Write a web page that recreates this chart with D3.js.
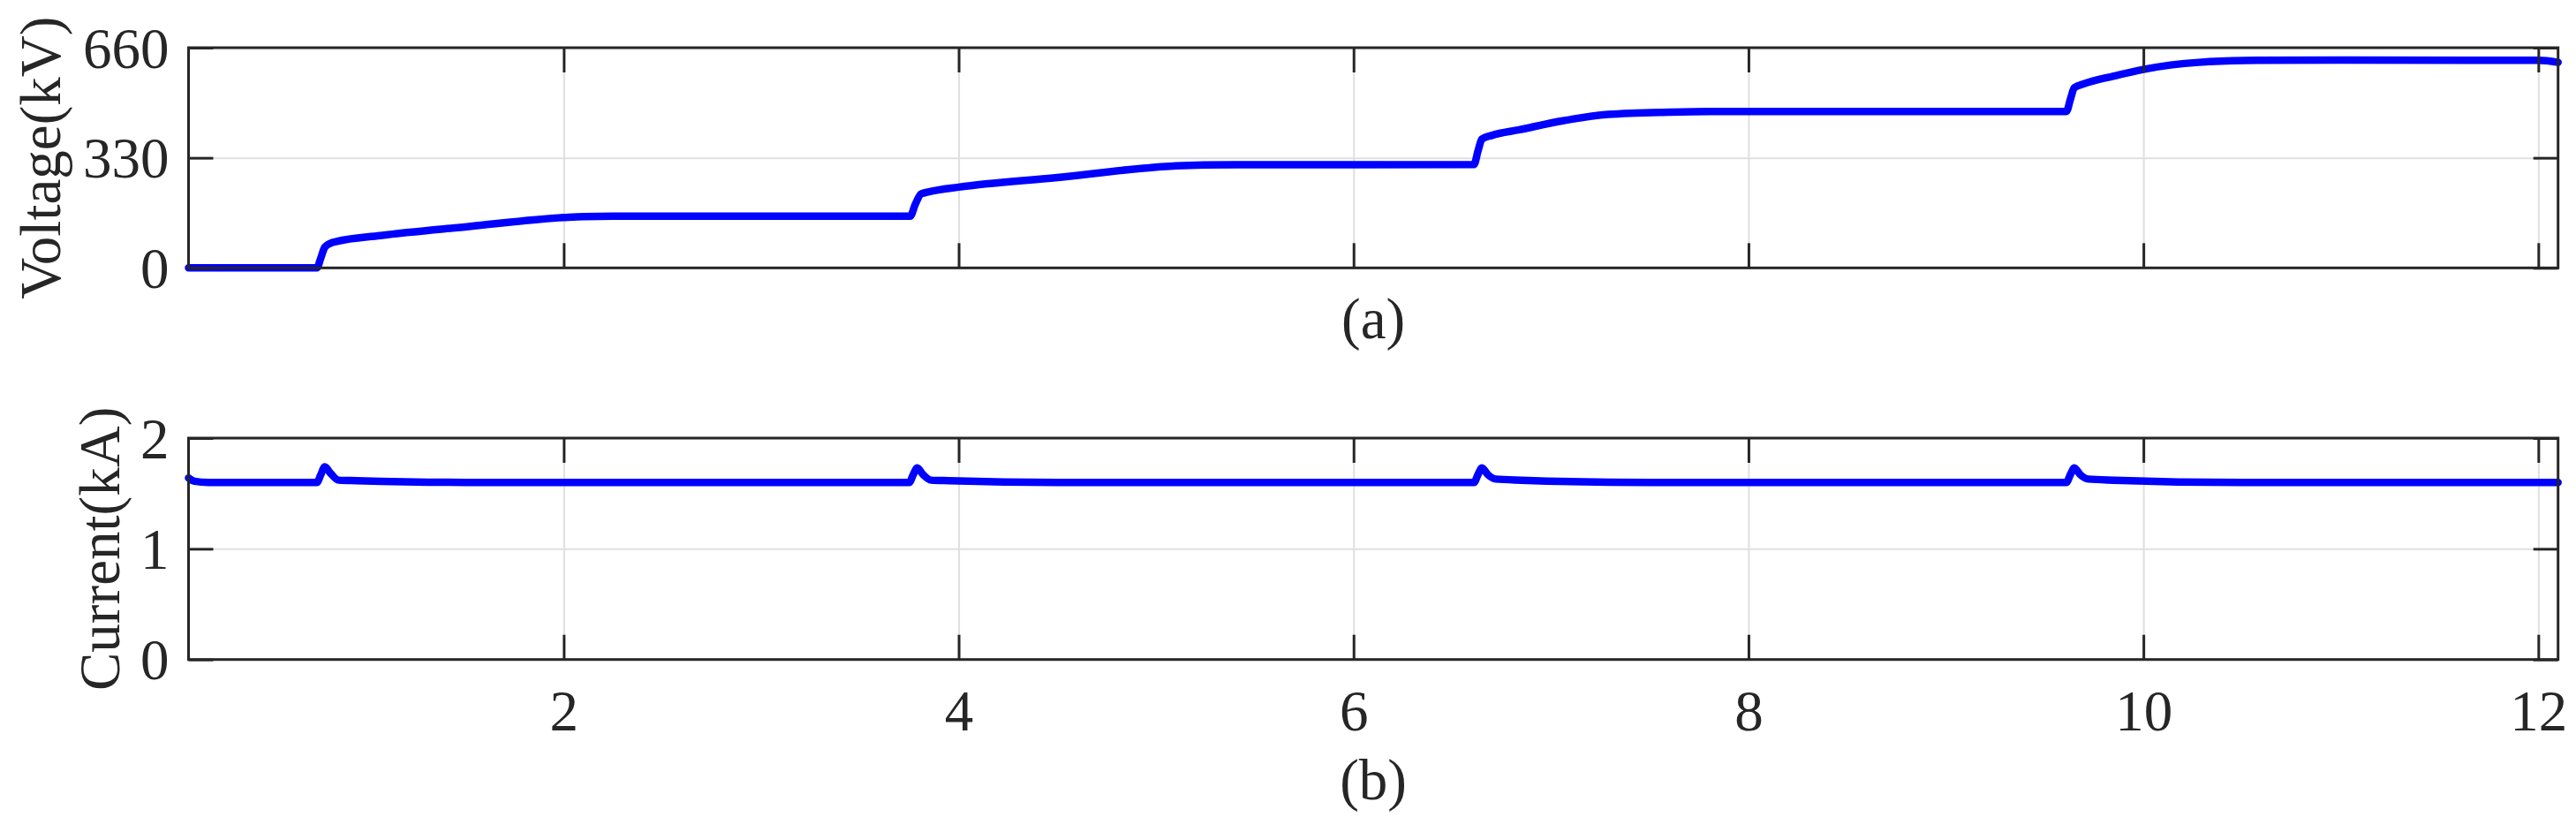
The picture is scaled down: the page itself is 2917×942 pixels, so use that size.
<!DOCTYPE html>
<html>
<head>
<meta charset="utf-8">
<script src="https://cdn.jsdelivr.net/npm/d3@7"></script>
<style>
  html, body { margin: 0; padding: 0; background: #ffffff; }
  svg { display: block; }
  text { font-family: "Liberation Serif", "Times New Roman", serif; fill: #262626; }
</style>
</head>
<body>
<svg id="chart" width="2917" height="942"></svg>
<script>
// ---------------- data ----------------
const xTicks = [2, 4, 6, 8, 10, 12];
const vTicks = [0, 330, 660];
const iTicks = [0, 1, 2];

const timeV = [0.1, 0.75, 0.77, 0.79, 0.82, 0.85, 1.07, 1.52, 2.0, 2.1, 2.3, 3.0, 3.755,
  3.78, 3.81, 3.85, 4.0, 4.5, 5.0, 5.1, 5.4, 6.61, 6.63, 6.65, 6.7, 6.84, 7.06, 7.29,
  7.6, 7.8, 9.61, 9.63, 9.65, 9.7, 9.85, 10.0, 10.28, 10.58, 11.0, 12.0, 12.1];
const voltage = [0, 0, 30, 62, 74, 79, 97, 124, 151, 154, 155, 155, 155,
  190, 222, 228, 242, 271, 302, 306, 309, 310, 350, 386, 397, 414, 441, 460,
  467, 469, 469, 505, 540, 552, 575, 595, 616, 622, 623, 622, 616];

const timeI = [0.1, 0.13, 0.2, 0.75, 0.77, 0.79, 0.82, 0.86, 0.95, 1.5,
  3.75, 3.77, 3.79, 3.82, 3.86, 3.95, 4.5,
  6.61, 6.63, 6.65, 6.68, 6.72, 6.85, 7.5,
  9.61, 9.63, 9.65, 9.68, 9.72, 9.85, 10.5, 12.1];
const current = [1.64, 1.61, 1.60, 1.60, 1.67, 1.74, 1.68, 1.62, 1.615, 1.60,
  1.60, 1.67, 1.73, 1.67, 1.62, 1.615, 1.60,
  1.60, 1.67, 1.73, 1.67, 1.63, 1.62, 1.60,
  1.60, 1.67, 1.73, 1.67, 1.63, 1.62, 1.60, 1.60];

// ---------------- layout ----------------
const svg = d3.select("#chart");
const left = 213.5, right = 2896.7;
const FS = 65;
const ink = "#262626";

const x = d3.scaleLinear().domain([0.1, 12.1]).range([left, right]);

function panel(cfg) {
  const y = d3.scaleLinear().domain(cfg.domain).range([cfg.bottom, cfg.top]);
  const g = svg.append("g");
  const h = cfg.bottom - cfg.top, w = right - left;

  // grid
  g.append("g").attr("transform", `translate(0,${cfg.bottom})`)
    .call(d3.axisBottom(x).tickValues(xTicks).tickSizeInner(-h).tickSizeOuter(0).tickFormat(""))
    .call(s => s.select(".domain").remove())
    .call(s => s.selectAll("line").attr("stroke", "#dfdfdf").attr("stroke-width", 2));
  g.append("g").attr("transform", `translate(${left},0)`)
    .call(d3.axisLeft(y).tickValues(cfg.ticks).tickSizeInner(-w).tickSizeOuter(0).tickFormat(""))
    .call(s => s.select(".domain").remove())
    .call(s => s.selectAll("line").attr("stroke", "#dfdfdf").attr("stroke-width", 2));

  // data line
  const line = d3.line().x((d, i) => x(cfg.t[i])).y(d => y(d)).curve(d3.curveMonotoneX);
  g.append("path").datum(cfg.values).attr("d", line)
    .attr("fill", "none").attr("stroke", "#0000ff").attr("stroke-width", 8.5)
    .attr("stroke-linejoin", "round").attr("stroke-linecap", "round");

  // axes (inward ticks)
  const TL = 28;
  const style = s => {
    s.select(".domain").remove();
    s.selectAll("line").attr("stroke", ink).attr("stroke-width", 3);
    s.selectAll("text").attr("font-size", FS).attr("font-family", '"Liberation Serif", "Times New Roman", serif').attr("fill", ink);
  };
  g.append("g").attr("transform", `translate(0,${cfg.bottom})`)
    .call(d3.axisBottom(x).tickValues(xTicks).tickSizeInner(-TL).tickSizeOuter(0).tickPadding(34)
      .tickFormat(cfg.xLabels ? d3.format("d") : ""))
    .call(style);
  g.append("g").attr("transform", `translate(0,${cfg.top})`)
    .call(d3.axisTop(x).tickValues(xTicks).tickSizeInner(-TL).tickSizeOuter(0).tickFormat(""))
    .call(style);
  g.append("g").attr("transform", `translate(${left},0)`)
    .call(d3.axisLeft(y).tickValues(cfg.ticks).tickSizeInner(-TL).tickSizeOuter(0).tickPadding(22)
      .tickFormat(d3.format("d")))
    .call(style)
    .call(s => s.selectAll("text").attr("dy", "0.34em"));
  g.append("g").attr("transform", `translate(${right},0)`)
    .call(d3.axisRight(y).tickValues(cfg.ticks).tickSizeInner(-TL).tickSizeOuter(0).tickFormat(""))
    .call(style);

  // box
  g.append("rect").attr("x", left).attr("y", cfg.top).attr("width", w).attr("height", h)
    .attr("fill", "none").attr("stroke", ink).attr("stroke-width", 3);

  // y label
  g.append("text")
    .attr("transform", `translate(${cfg.labelX},${(cfg.top + cfg.bottom) / 2}) rotate(-90)`)
    .attr("text-anchor", "middle").attr("font-size", FS).text(cfg.label);

  // caption
  g.append("text").attr("x", (left + right) / 2).attr("y", cfg.captionY)
    .attr("text-anchor", "middle").attr("font-size", FS).text(cfg.caption);
}

panel({ top: 54, bottom: 303.3, domain: [0, 660], ticks: vTicks, t: timeV, values: voltage,
  xLabels: false, label: "Voltage(kV)", labelX: 68, caption: "(a)", captionY: 383 });
panel({ top: 496, bottom: 746.7, domain: [0, 2], ticks: iTicks, t: timeI, values: current,
  xLabels: true, label: "Current(kA)", labelX: 135, caption: "(b)", captionY: 905 });
</script>
</body>
</html>
